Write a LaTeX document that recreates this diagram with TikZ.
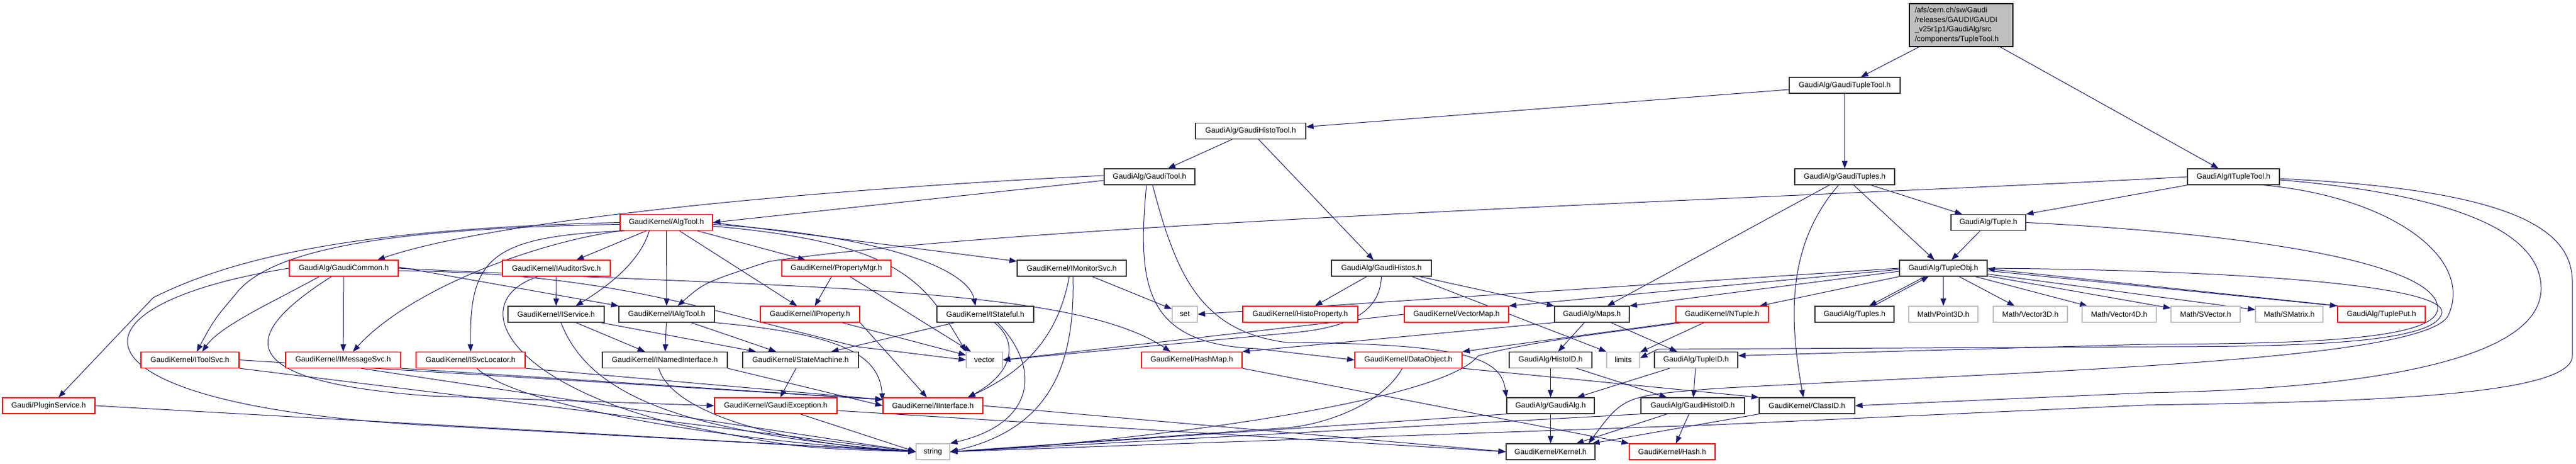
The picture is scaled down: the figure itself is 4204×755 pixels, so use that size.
\documentclass[tikz,border=0pt]{standalone}
\usepackage{fontspec}
\setmainfont{Liberation Sans}
\usetikzlibrary{arrows.meta, positioning, backgrounds}
\definecolor{edgeblue}{RGB}{25,25,112}
\definecolor{extgrey}{RGB}{191,191,191}

\begin{document}
\begin{tikzpicture}[
    x=1pt, y=-1pt,
    doc/.style={draw=black!80, line width=1.2pt, fill=white, minimum height=26pt, inner xsep=2pt, inner ysep=0pt, font=\fontsize{12.3}{14}\selectfont},
    trunc/.style={doc, draw=red},
    ext/.style={doc, draw=extgrey},
    rootbox/.style={doc, draw=black, fill=extgrey, minimum height=70pt, text width=151pt, inner xsep=9pt, align=left, font=\fontsize{12.3}{15.5}\selectfont},
    dep/.style={-{Triangle[length=12pt, width=9pt]}, draw=edgeblue, line width=1pt}
]
    \useasboundingbox (0,0) rectangle (4204,755);

    % Upper levels
    \node[rootbox] (root) at (3200.5,41) {/afs/cern.ch/sw/Gaudi\\/releases/GAUDI/GAUDI\\\_v25r1p1/GaudiAlg/src\\/components/TupleTool.h};
    \node[doc, minimum width=181pt] (gtt) at (3010.5,139) {GaudiAlg/GaudiTupleTool.h};
    \node[doc, minimum width=180pt] (ght) at (2041,213.5) {GaudiAlg/GaudiHistoTool.h};
    \node[doc, minimum width=148pt] (gtool) at (1876,288) {GaudiAlg/GaudiTool.h};
    \node[doc, minimum width=163pt] (gtuples) at (3010.5,288) {GaudiAlg/GaudiTuples.h};
    \node[doc, minimum width=150pt] (itt) at (3645,288) {GaudiAlg/ITupleTool.h};
    \node[trunc, minimum width=151pt] (algtool) at (1087.5,362.5) {GaudiKernel/AlgTool.h};
    \node[doc, minimum width=122pt] (tuple) at (3245,362.5) {GaudiAlg/Tuple.h};

    % Row 5
    \node[trunc, minimum width=178pt] (gcommon) at (561,437) {GaudiAlg/GaudiCommon.h};
    \node[trunc, minimum width=176pt] (iauditor) at (908,437) {GaudiKernel/IAuditorSvc.h};
    \node[trunc, minimum width=178pt] (propmgr) at (1365,437) {GaudiKernel/PropertyMgr.h};
    \node[doc, minimum width=178pt] (imonitor) at (1749,437) {GaudiKernel/IMonitorSvc.h};
    \node[doc, minimum width=163pt] (ghistos) at (2254.5,437) {GaudiAlg/GaudiHistos.h};
    \node[doc, minimum width=143pt] (tupleobj) at (3171.5,437) {GaudiAlg/TupleObj.h};

    % Row 6
    \node[doc, minimum width=157pt] (iservice) at (907.5,512) {GaudiKernel/IService.h};
    \node[doc, minimum width=156pt] (ialgtool) at (1088,512) {GaudiKernel/IAlgTool.h};
    \node[trunc, minimum width=162pt] (iproperty) at (1322,512) {GaudiKernel/IProperty.h};
    \node[doc, minimum width=158pt] (istateful) at (1608,512) {GaudiKernel/IStateful.h};
    \node[ext, minimum width=41pt] (set) at (1933.5,512) {set};
    \node[trunc, minimum width=188pt] (histoprop) at (2122,512) {GaudiKernel/HistoProperty.h};
    \node[trunc, minimum width=170pt] (vectormap) at (2377,512) {GaudiKernel/VectorMap.h};
    \node[doc, minimum width=122pt] (maps) at (2598,512) {GaudiAlg/Maps.h};
    \node[trunc, minimum width=151pt] (ntuple) at (2810.5,512) {GaudiKernel/NTuple.h};
    \node[doc, minimum width=129pt] (tuples) at (3026.5,512) {GaudiAlg/Tuples.h};
    \node[ext, minimum width=113pt] (point3d) at (3171.5,512) {Math/Point3D.h};
    \node[ext, minimum width=121pt] (vector3d) at (3313.5,512) {Math/Vector3D.h};
    \node[ext, minimum width=121pt] (vector4d) at (3458.5,512) {Math/Vector4D.h};
    \node[ext, minimum width=113pt] (svector) at (3599.5,512) {Math/SVector.h};
    \node[ext, minimum width=110pt] (smatrix) at (3736,512) {Math/SMatrix.h};
    \node[trunc, minimum width=143pt] (tupleput) at (3886.5,512) {GaudiAlg/TuplePut.h};

    % Row 7
    \node[trunc, minimum width=160pt] (itoolsvc) at (310,586.5) {GaudiKernel/IToolSvc.h};
    \node[trunc, minimum width=188pt] (imsgsvc) at (560,586.5) {GaudiKernel/IMessageSvc.h};
    \node[trunc, minimum width=178pt] (isvcloc) at (768,586.5) {GaudiKernel/ISvcLocator.h};
    \node[doc, minimum width=204pt] (inamed) at (1085,586.5) {GaudiKernel/INamedInterface.h};
    \node[doc, minimum width=189pt] (statemach) at (1306.5,586.5) {GaudiKernel/StateMachine.h};
    \node[ext, minimum width=59pt] (vector) at (1606.5,586.5) {vector};
    \node[trunc, minimum width=164pt] (hashmap) at (1945,586.5) {GaudiKernel/HashMap.h};
    \node[trunc, minimum width=175pt] (dataobj) at (2298.5,586.5) {GaudiKernel/DataObject.h};
    \node[doc, minimum width=135pt] (histoid) at (2530.5,586.5) {GaudiAlg/HistoID.h};
    \node[ext, minimum width=54pt] (limits) at (2649,586.5) {limits};
    \node[doc, minimum width=136pt] (tupleid) at (2768,586.5) {GaudiAlg/TupleID.h};

    % Row 8
    \node[trunc, minimum width=151pt] (plugin) at (79.5,661) {Gaudi/PluginService.h};
    \node[trunc, minimum width=200pt] (gexcept) at (1266,661) {GaudiKernel/GaudiException.h};
    \node[trunc, minimum width=163pt] (iinterface) at (1522.5,661) {GaudiKernel/IInterface.h};
    \node[doc, minimum width=143pt] (gaudialg) at (2530.5,661) {GaudiAlg/GaudiAlg.h};
    \node[doc, minimum width=169pt] (ghistoid) at (2762.5,661) {GaudiAlg/GaudiHistoID.h};
    \node[doc, minimum width=156pt] (classid) at (2949,661) {GaudiKernel/ClassID.h};

    % Row 9
    \node[ext, minimum width=55pt] (string) at (1522.5,736) {string};
    \node[doc, minimum width=145pt] (kernel) at (2530.5,736) {GaudiKernel/Kernel.h};
    \node[trunc, minimum width=140pt] (hash) at (2729,736) {GaudiKernel/Hash.h};

    \begin{scope}[on background layer]
    % Tools
    \draw[dep] (root) -- (gtt);
    \draw[dep] (root) -- (itt);
    \draw[dep] (gtt) -- (ght);
    \draw[dep] (gtt) -- (gtuples);
    \draw[dep] (ght) -- (gtool);
    \draw[dep] (ght) -- (ghistos);
    \draw[dep] ([yshift=-6pt]gtool.west) -- (algtool.east);
    \draw[dep] ([yshift=2pt]gtool.west) .. controls (1300,310) and (800,360) .. ([xshift=55pt]gcommon.north);
    \draw[dep] ([xshift=-5pt]gtool.south) .. controls (1855,470) and (1870,560) .. (2050,568) -- (dataobj.west);
    \draw[dep] ([xshift=5pt]gtool.south) .. controls (1920,450) and (1960,540) .. (2100,558) .. controls (2400,560) and (2450,585) .. (gaudialg.north west);
    \draw[dep] (gtuples) -- (tuple);
    \draw[dep] (gtuples) -- (tupleobj);
    \draw[dep] (gtuples) -- (maps);
    \draw[dep] ([xshift=-10pt]gtuples.south) .. controls (2915,400) and (2920,520) .. ([xshift=-6pt]classid.north);
    \draw[dep] (itt.west) .. controls (3000,320) and (1700,360) .. (1255,426) .. controls (1150,460) .. ([xshift=18pt]ialgtool.north);
    \draw[dep] (itt.south west) -- (tuple.north east);
    \draw[dep] ([xshift=48pt]itt.south) .. controls (3900,320) and (4040,420) .. (3995,515) .. controls (3950,590) and (3300,605) .. (2800,633) .. controls (2650,645) .. ([xshift=62pt]kernel.north);
    \draw[dep] ([yshift=-5pt]itt.east) .. controls (4040,320) and (4147,390) .. (4147,470) .. controls (4147,600) and (3800,635) .. (3502,640) -- (classid.east);
    \draw[dep] ([yshift=-3pt]itt.east) .. controls (4120,310) and (4198,380) .. (4198,460) -- (4198,580) .. controls (4198,650) and (3800,655) .. (3502,660) -- (2800,692) -- (string.east);

    % Tuples
    \draw[dep] (tuple) -- (tupleobj);
    \draw[dep] (tuple.east) .. controls (3750,385) and (3985,440) .. (3978,505) .. controls (3970,555) and (3750,560) .. (3502,561) -- ([yshift=7pt]tupleid.east);
    \draw[dep] (tupleobj.east) .. controls (3650,440) and (3995,465) .. (3985,510) .. controls (3975,560) and (3750,565) .. (3502,565) -- (2705,569) -- ([yshift=3pt]limits.east);
    \draw[dep] ([xshift=-30pt]tupleobj.south) -- ([xshift=24pt]tuples.north);
    \draw[dep] ([xshift=31pt]tuples.north) -- ([xshift=-24pt]tupleobj.south);
    \draw[dep] (tupleobj) -- (point3d);
    \draw[dep] (tupleobj) -- (vector3d);
    \draw[dep] (tupleobj) -- (vector4d);
    \draw[dep] (tupleobj) -- (svector);
    \draw[dep] (tupleobj) -- (smatrix);
    \draw[dep] ([yshift=-4pt]tupleobj.east) -- (tupleput.north west);
    \draw[dep] ([xshift=3pt]tupleput.north west) -- ([yshift=-1pt]tupleobj.east);
    \draw[dep] (tupleobj.west) -- (set.east);
    \draw[dep] ([yshift=-2pt]tupleobj.west) -- (vectormap.north east);
    \draw[dep] ([yshift=-5pt]tupleobj.west) -- (maps.north east);
    \draw[dep] (tupleobj.south west) -- ([xshift=-15pt]ntuple.north east);
    \draw[dep] (ntuple.south west) -- (dataobj.north east);
    \draw[dep] (ntuple) -- (limits);
    \draw[dep] ([xshift=10pt]ntuple.south west) .. controls (2600,545) and (2480,560) .. (2412,580) .. controls (2350,660) and (1800,725) .. (string.east);

    % Histos and maps
    \draw[dep] (ghistos) -- (histoprop);
    \draw[dep] (ghistos.south) .. controls (2252,510) and (2200,535) .. (2100,543) -- (vector.east);
    \draw[dep] (ghistos) -- (maps);
    \draw[dep] ([xshift=50pt]ghistos.south) -- (limits.north west);
    \draw[dep] (vectormap.west) -- (vector.east);
    \draw[dep] (maps) -- (histoid);
    \draw[dep] (maps) -- (tupleid);
    \draw[dep] (maps.south west) -- (hashmap.north east);
    \draw[dep] (histoid) -- (gaudialg);
    \draw[dep] (histoid) -- (ghistoid);
    \draw[dep] (tupleid) -- (gaudialg);
    \draw[dep] (tupleid) -- (ghistoid);
    \draw[dep] (gaudialg) -- (kernel);
    \draw[dep] (gaudialg.south west) -- (string.east);
    \draw[dep] (ghistoid) -- (kernel);
    \draw[dep] (ghistoid) -- (hash);
    \draw[dep] (ghistoid.south west) -- (string.east);
    \draw[dep] (classid.south west) -- ([xshift=68pt]kernel.north);
    \draw[dep] (hashmap.south east) -- (hash.north west);
    \draw[dep] (dataobj.south east) -- (classid.north west);
    \draw[dep] ([xshift=-10pt]dataobj.south) .. controls (2255,660) and (2160,692) .. (2100,697) -- (string.east);

    % Common and AlgTool
    \draw[dep] (gcommon) -- (imsgsvc);
    \draw[dep] ([xshift=-40pt]gcommon.south) .. controls (450,490) and (360,530) .. ([xshift=20pt]itoolsvc.north);
    \draw[dep] (gcommon.west) .. controls (80,500) and (100,660) .. (700,693) -- (string.west);
    \draw[dep] ([xshift=-20pt]gcommon.south) .. controls (400,540) and (360,620) .. (700,645) -- (gexcept.west);
    \draw[dep] ([yshift=2pt]gcommon.east) -- (ialgtool.north west);
    \draw[dep] (gcommon.east) .. controls (1300,470) and (1750,465) .. ([xshift=-35pt]hashmap.north);
    \draw[dep] ([yshift=-4pt]gcommon.east) .. controls (1000,445) and (1150,505) .. (1400,565) -- (vector.west);
    \draw[dep] (algtool.west) .. controls (620,372) and (400,410) .. (250,485) -- ([xshift=16pt]plugin.north);
    \draw[dep] ([yshift=-3pt]algtool.west) .. controls (640,372) and (440,405) .. (384,480) .. controls (350,520) .. ([xshift=11pt]itoolsvc.north);
    \draw[dep] (algtool.south west) .. controls (850,400) and (660,480) .. ([xshift=16pt]imsgsvc.north);
    \draw[dep] ([xshift=8pt]algtool.south west) .. controls (800,385) and (766,420) .. (isvcloc.north);
    \draw[dep] (algtool) -- (iauditor);
    \draw[dep] ([xshift=-28pt]algtool.south) .. controls (1045,425) and (995,465) .. ([xshift=32pt]iservice.north);
    \draw[dep] (algtool) -- (ialgtool);
    \draw[dep] (algtool) -- (iproperty);
    \draw[dep] (algtool) -- (propmgr);
    \draw[dep] (algtool.east) -- (imonitor);
    \draw[dep] ([yshift=-3pt]algtool.east) .. controls (1450,385) and (1580,440) .. ([xshift=-16pt]istateful.north);
    \draw[dep] ([yshift=-6pt]algtool.east) .. controls (1470,395) and (1510,460) .. ([xshift=-30pt]vector.north);

    % Interfaces
    \draw[dep] (iauditor) -- (iservice);
    \draw[dep] ([xshift=-30pt]iauditor.south) .. controls (760,490) and (820,620) .. (1100,690) .. controls (1300,730) .. (string.west);
    \draw[dep] (iservice) -- (inamed);
    \draw[dep] (iservice) -- (statemach);
    \draw[dep] ([xshift=8pt]iservice.south) .. controls (960,640) and (1100,705) .. (string.west);
    \draw[dep] (ialgtool) -- (inamed);
    \draw[dep] (ialgtool) -- (statemach);
    \draw[dep] (ialgtool.south east) .. controls (1380,545) and (1435,580) .. ([yshift=8pt]iinterface.west);
    \draw[dep] (iproperty.south east) -- ([xshift=-10pt]iinterface.north);
    \draw[dep] (iproperty) -- (vector);
    \draw[dep] (propmgr) -- (iproperty);
    \draw[dep] (propmgr) -- (vector);
    \draw[dep] (imonitor) -- (set);
    \draw[dep] ([xshift=-4pt]imonitor.south) .. controls (1725,560) and (1660,610) .. ([xshift=57pt]iinterface.north);
    \draw[dep] ([xshift=2pt]imonitor.south) .. controls (1755,600) and (1710,700) .. (string.east);
    \draw[dep] ([xshift=15pt]istateful.south) .. controls (1665,560) and (1650,610) .. ([xshift=57pt]iinterface.north);
    \draw[dep] ([xshift=20pt]istateful.south) .. controls (1700,600) and (1690,690) .. (string.north east);
    \draw[dep] ([xshift=-50pt]istateful.south) -- ([xshift=50pt]statemach.north);
    \draw[dep] (statemach) -- (gexcept);
    \draw[dep] ([yshift=-8pt]gexcept.east) -- (kernel.west);
    \draw[dep] ([xshift=40pt]gexcept.south) -- (string.west);
    \draw[dep] (inamed.south east) -- (iinterface.west);
    \draw[dep] ([xshift=-10pt]inamed.south) .. controls (1100,680) and (1300,725) .. (string.west);
    \draw[dep] (isvcloc.south east) -- ([yshift=10pt]iinterface.west);
    \draw[dep] ([xshift=10pt]isvcloc.south) .. controls (850,665) and (1200,720) .. (string.west);
    \draw[dep] (itoolsvc.east) -- ([yshift=10pt]iinterface.west);
    \draw[dep] (itoolsvc.south east) -- (string.west);
    \draw[dep] (imsgsvc.south east) -- ([yshift=10pt]iinterface.west);
    \draw[dep] ([xshift=29pt]imsgsvc.south) -- (string.west);
    \draw[dep] (plugin.east) -- (string.west);
    \draw[dep] (iinterface.east) -- (kernel.west);
    \end{scope}
\end{tikzpicture}
\end{document}
